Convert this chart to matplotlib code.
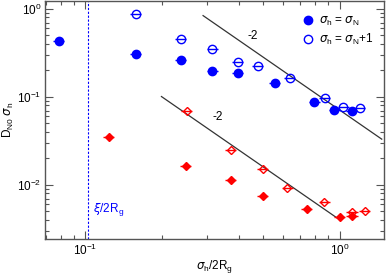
import numpy as np
import matplotlib
matplotlib.use("Agg")
import matplotlib.pyplot as plt
from matplotlib.ticker import LogLocator, NullFormatter

# data
bf_x = [0.0787, 0.158, 0.237, 0.315, 0.397, 0.555, 0.793, 0.95, 1.115]
bf_y = [0.433, 0.308, 0.263, 0.197, 0.187, 0.144, 0.087, 0.0706, 0.0687]
bo_x = [0.158, 0.237, 0.315, 0.397, 0.475, 0.634, 0.87, 1.03, 1.195]
bo_y = [0.87, 0.459, 0.351, 0.248, 0.227, 0.166, 0.0966, 0.0776, 0.075]
rf_x = [0.1235, 0.248, 0.372, 0.497, 0.743, 1.0, 1.117]
rf_y = [0.0348, 0.0166, 0.0114, 0.00743, 0.00534, 0.00433, 0.00445]
ro_x = [0.25, 0.372, 0.497, 0.621, 0.868, 1.117, 1.254]
ro_y = [0.070, 0.025, 0.0152, 0.0093, 0.00636, 0.00497, 0.00503]
xerr_frac = 0.05
line1_A, line1_x = 0.0706, [0.29, 1.46]
line2_A, line2_x = 0.0040, [0.199, 0.97]
xi_x = 0.1023

plt.rcParams['font.family'] = ['Liberation Sans', 'DejaVu Sans']
fig = plt.figure(figsize=(3.86, 2.79), dpi=100)
ax = fig.add_axes([45/386, 1 - 239/279, (384-45)/386, (239-1)/279])
ax.set_xscale('log')
ax.set_yscale('log')

def ebar(x, y, fmt, color, mfc, ms):
    x = np.array(x); y = np.array(y)
    ax.errorbar(x, y, xerr=x*xerr_frac, fmt=fmt, color=color, mfc=mfc, mec=color,
                ms=ms, mew=1.0, elinewidth=1.0, capsize=0, zorder=3)

ebar(bf_x, bf_y, 'o', 'blue', 'blue', 6)
ebar(bo_x, bo_y, 'o', 'blue', 'none', 6)
ebar(rf_x, rf_y, 'D', 'red', 'red', 4.5)
ebar(ro_x, ro_y, 'D', 'red', 'none', 4.5)

for A, xs in [(line1_A, line1_x), (line2_A, line2_x)]:
    xs = np.array(xs)
    ax.plot(xs, A * xs**-2, color='#333333', lw=0.9, zorder=2)

ax.text(0.455, 0.49, '-2', fontsize=8.5, ha='center', va='center')
ax.text(0.331, 0.059, '-2', fontsize=8.5, ha='center', va='center')

ax.axvline(xi_x, color='blue', ls=(0, (2, 1.5)), lw=0.8)
ax.text(0.107, 0.0052, r'$\xi$/2R$_\mathregular{g}$', color='blue', fontsize=8.5, ha='left', va='center')

# legend
h1 = ax.plot([], [], 'o', color='blue', ms=6)[0]
h2 = ax.plot([], [], 'o', color='blue', mfc='none', ms=6)[0]
ax.legend([h1, h2], [r'$\sigma_\mathregular{h}$ = $\sigma_\mathregular{N}$',
                     r'$\sigma_\mathregular{h}$ = $\sigma_\mathregular{N}$+1'],
          loc='upper right', bbox_to_anchor=(1.0, 0.985), frameon=False, fontsize=8.5,
          handletextpad=0.3, labelspacing=0.3, handlelength=1.2)

ax.set_xlim(0.0694, 1.49)
ax.set_ylim(0.00243, 1.23)

ax.xaxis.set_major_locator(LogLocator(base=10))
ax.yaxis.set_major_locator(LogLocator(base=10))
ax.xaxis.set_minor_locator(LogLocator(base=10, subs=np.arange(2, 10)))
ax.yaxis.set_minor_locator(LogLocator(base=10, subs=np.arange(2, 10)))
ax.xaxis.set_minor_formatter(NullFormatter())
ax.yaxis.set_minor_formatter(NullFormatter())
ax.tick_params(which='both', direction='in', top=True, right=True, labelsize=8.5,
               colors='#555555', labelcolor='black', pad=2.5)
ax.tick_params(which='major', length=6, width=0.8)
ax.tick_params(which='minor', length=3, width=0.8)
for s in ax.spines.values():
    s.set_color('#555555')
    s.set_linewidth(1.0)

ax.set_xlabel(r'$\sigma_\mathregular{h}$/2R$_\mathregular{g}$', fontsize=8.5)
ax.set_ylabel(r'D$_\mathregular{N0}$ $\sigma_\mathregular{h}$', fontsize=8.5)
ax.xaxis.set_label_coords(0.5, -0.08)
ax.yaxis.set_label_coords(-0.085, 0.5)

fig.savefig('out.png', dpi=100)
